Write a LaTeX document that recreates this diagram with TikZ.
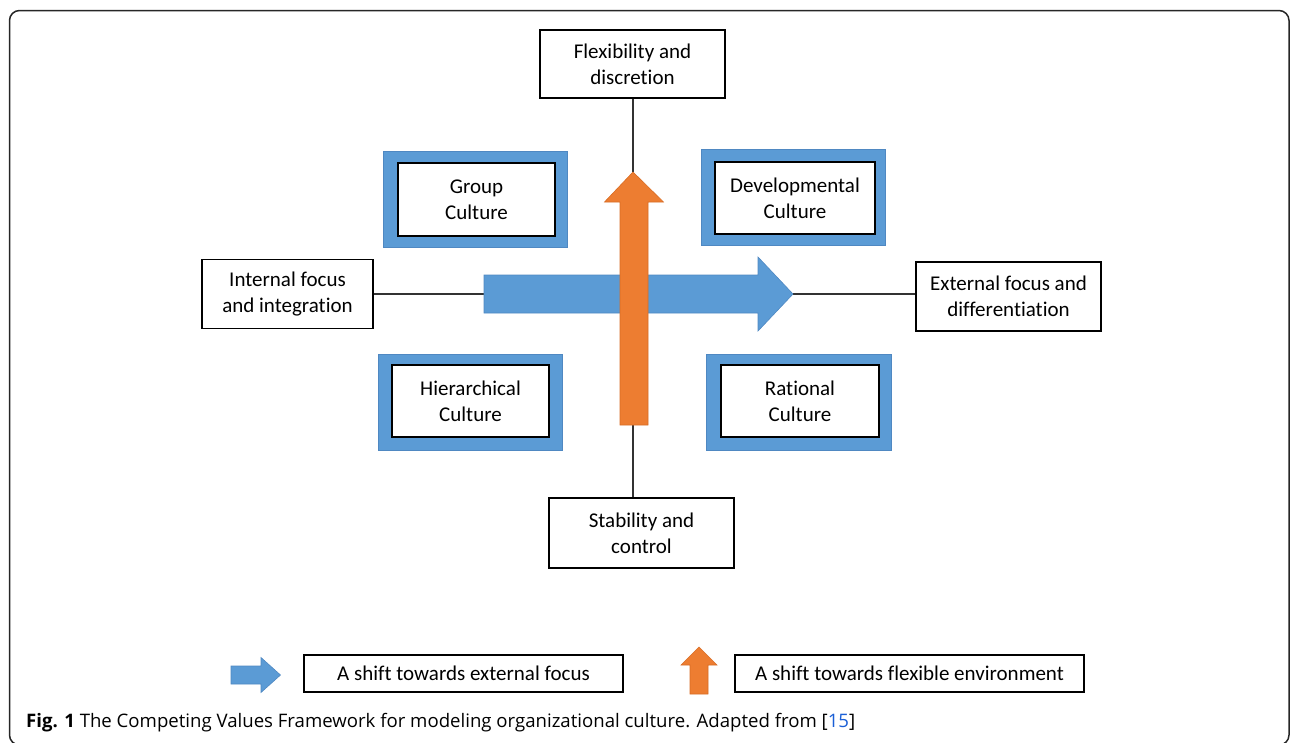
\documentclass[tikz,border=0pt]{standalone}
\usepackage{fontspec}
\setmainfont{Carlito}[Ligatures=NoCommon]
\newfontfamily\capfont{Open Sans}
\definecolor{cvblue}{HTML}{5B9BD5}
\definecolor{cvblueedge}{HTML}{4F88C2}
\definecolor{cvorange}{HTML}{ED7D31}
\definecolor{cvorangeedge}{HTML}{D86C24}
\definecolor{cvlink}{HTML}{1A5FD6}
\begin{document}
\begin{tikzpicture}[x=1pt,y=-1pt,
  axisbox/.style={draw=black, line width=1.4pt, fill=white, align=center, inner sep=0pt,
    font=\fontsize{21}{26}\selectfont},
  cultout/.style={draw=cvblueedge, line width=1pt, fill=cvblue, inner sep=0pt},
  cultin/.style={draw=black, line width=2pt, fill=white, align=center, inner sep=0pt,
    font=\fontsize{21}{26}\selectfont},
  conn/.style={draw=black!80, line width=1.3pt},
  bluearrow/.style={fill=cvblue, draw=cvblueedge, line width=0.6pt},
  orangearrow/.style={fill=cvorange, draw=cvorangeedge, line width=0.6pt},
  legbox/.style={draw=black, line width=1.4pt, fill=white, inner sep=0pt,
    font=\fontsize{21}{26}\selectfont}]
\useasboundingbox (0,0) rectangle (1290,742);
% outer frame
\begin{scope}
\clip (0,0) rectangle (1290,742);
\draw[line width=1.5pt, black!85, rounded corners=10pt] (9.5,10.5) rectangle (1289,745);
\end{scope}

% axis boxes
\node[axisbox, minimum width=185pt, minimum height=68pt] (flex) at (632.5,64) {Flexibility and\\discretion};
\node[axisbox, minimum width=185pt, minimum height=70pt] (stab) at (641.5,533) {Stability and\\control};
\node[axisbox, minimum width=171pt, minimum height=69pt] (intl) at (287.5,294) {Internal focus\\and integration};
\node[axisbox, minimum width=185pt, minimum height=69pt] (extl) at (1008.5,296.5) {External focus and\\differentiation};

% culture boxes
\node[cultout, minimum width=184pt, minimum height=96pt] (grpO) at (475,199) {};
\node[cultin, minimum width=157pt, minimum height=73pt] (grp) at (476.5,199.5) {Group\\Culture};
\node[cultout, minimum width=184pt, minimum height=96pt] (devO) at (793,197) {};
\node[cultin, minimum width=160pt, minimum height=72pt] (dev) at (795,198) {Developmental\\Culture};
\node[cultout, minimum width=184pt, minimum height=96pt] (hieO) at (470,402) {};
\node[cultin, minimum width=157pt, minimum height=72pt] (hie) at (470.5,401) {Hierarchical\\Culture};
\node[cultout, minimum width=185pt, minimum height=96pt] (ratO) at (798.5,402) {};
\node[cultin, minimum width=158pt, minimum height=72pt] (rat) at (800,401) {Rational\\Culture};

% arrow end points
\coordinate (btail) at (484,294);
\coordinate (btip) at (793,294);
\coordinate (otip) at (633,172);
\coordinate (obot) at (633,425);

% connectors
\draw[conn] (intl.east |- btail) -- (btail);
\draw[conn] (btip) -- (btip -| extl.west);
\draw[conn] (flex.south -| otip) -- (otip);
\draw[conn] (obot) -- (obot |- stab.north);

% big blue arrow
\draw[bluearrow] (484,275) -- (758,275) -- (758,257) -- (btip) -- (758,331) -- (758,313) -- (484,313) -- cycle;
% big orange arrow
\draw[orangearrow] (620,425) -- (620,202) -- (604.5,202) -- (otip) -- (663.5,202) -- (648,202) -- (648,425) -- cycle;

% legend
\draw[bluearrow] (231,666) -- (261,666) -- (261,657.5) -- (280.5,675) -- (261,692.5) -- (261,684) -- (231,684) -- cycle;
\node[legbox, minimum width=319pt, minimum height=37pt] (leg1) at (463.5,673.5) {A shift towards external focus};
\draw[orangearrow] (690,694) -- (690,665) -- (681,665) -- (699,647) -- (717,665) -- (708,665) -- (708,694) -- cycle;
\node[legbox, minimum width=349pt, minimum height=37pt] (leg2) at (909.5,673.5) {A shift towards flexible environment};

% caption
\node[anchor=base west, inner sep=0pt, font=\capfont\fontsize{18.6}{21}\selectfont] (cap) at (26,727)
  {\textbf{Fig. 1} The Competing Values Framework for modeling organizational culture. Adapted from [{\color{cvlink}15}]};
\end{tikzpicture}
\end{document}
